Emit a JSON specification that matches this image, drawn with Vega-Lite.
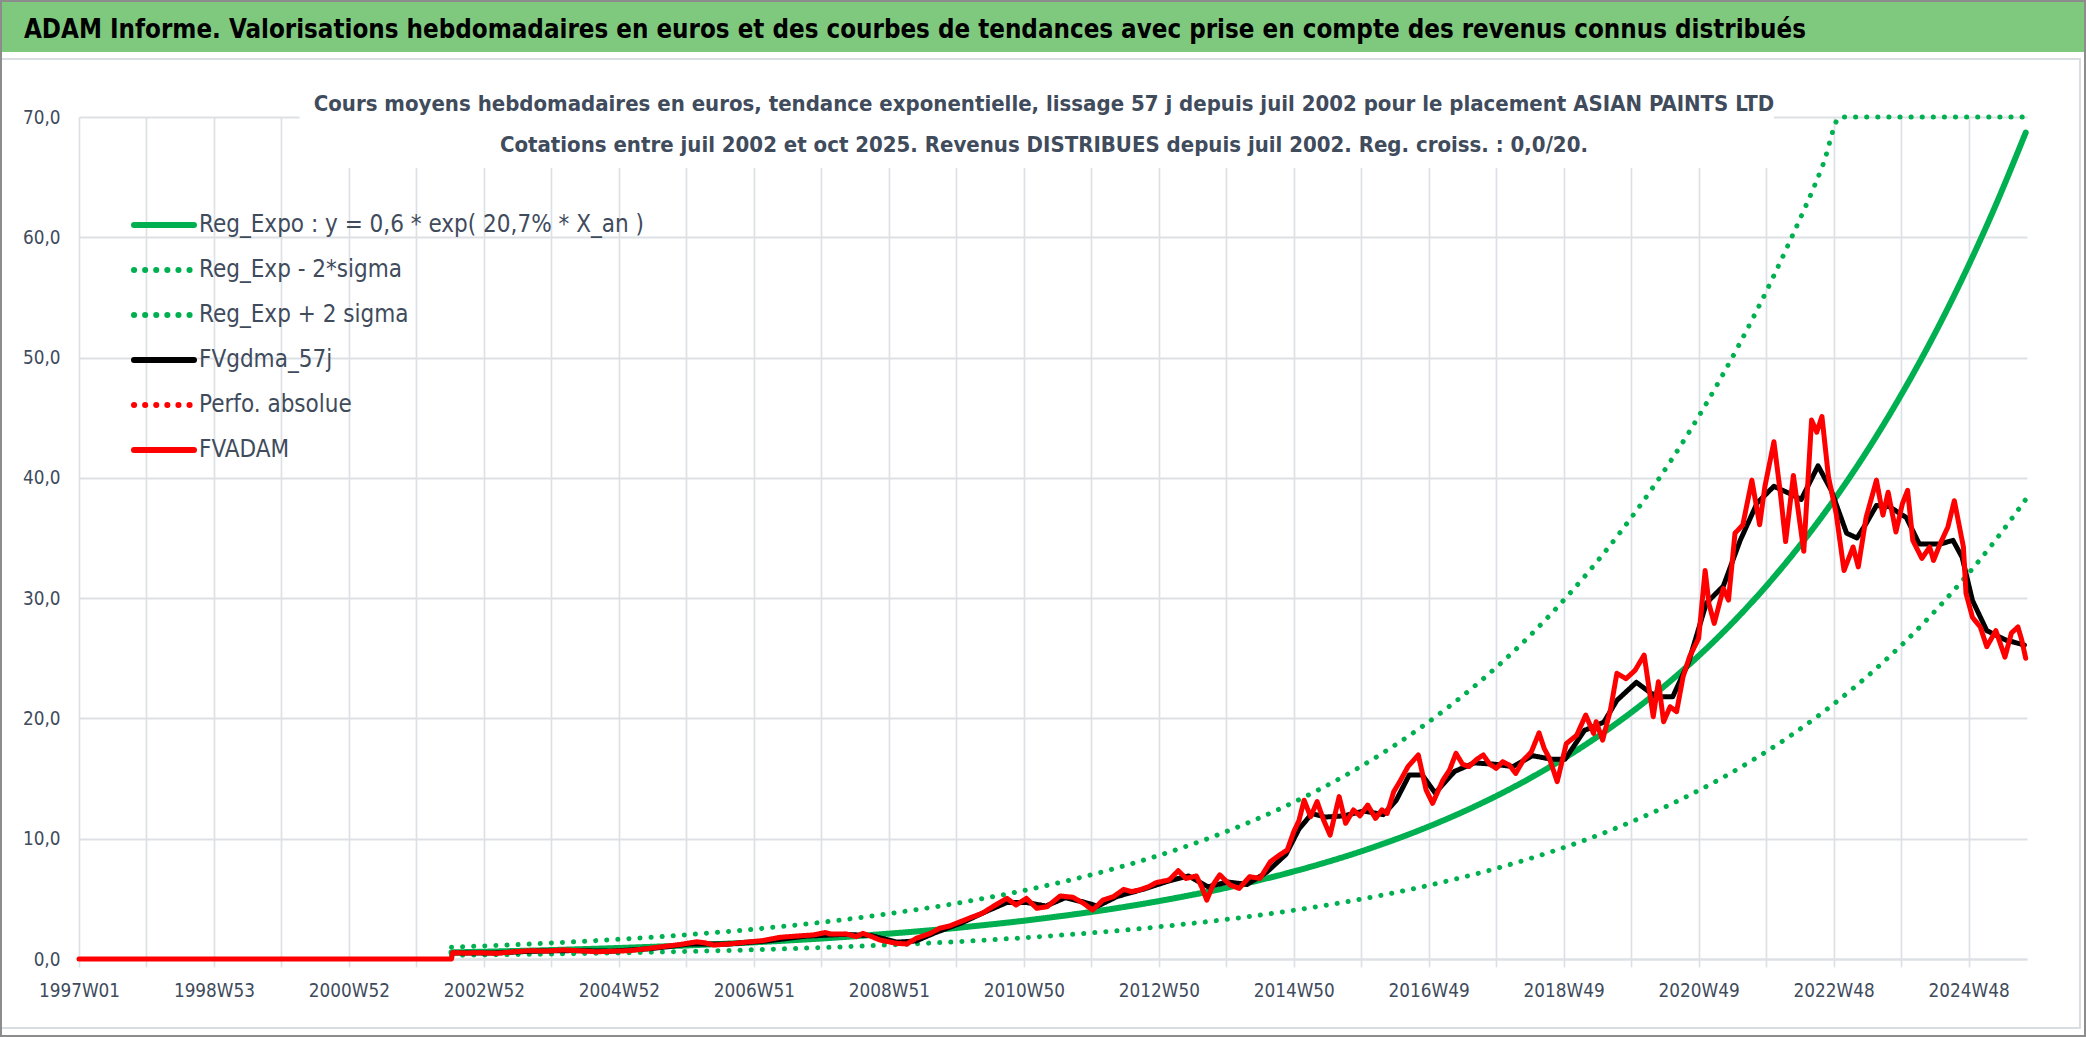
{
"$schema": "https://vega.github.io/schema/vega-lite/v6.json",
"width": 1948, "height": 842,
"autosize": {"type": "none"},
"padding": {"left": 79, "top": 117, "right": 59, "bottom": 78},
"background": "white",
"config": {"view": {"stroke": null}},
"layer": [
{"data": {"values": [{}]}, "mark": {"type": "rect", "color": "#7FC97F"},
 "encoding": {"x": {"datum": -61, "type": "quantitative", "scale": {"domain": [0,1501], "nice": false, "zero": false}, "axis": {"title": null}}, "x2": {"datum": 1547},
  "y": {"datum": 79.8, "type": "quantitative", "scale": {"domain": [0,70], "nice": false, "zero": false}, "axis": {"title": null}}, "y2": {"datum": 75.4}}},
{"data": {"values": [{}]}, "mark": {"type": "rect", "fill": null, "fillOpacity": 0, "stroke": "#D9DCE1", "strokeWidth": 2},
 "encoding": {"x": {"datum": -60.9, "type": "quantitative", "scale": {"domain": [0,1501], "nice": false, "zero": false}, "axis": {"title": null}}, "x2": {"datum": 1541.8},
  "y": {"datum": 74.82, "type": "quantitative", "scale": {"domain": [0,70], "nice": false, "zero": false}, "axis": {"title": null}}, "y2": {"datum": -5.74}}},
{"data": {"values": [{}]}, "mark": {"type": "rect", "color": "white"},
 "encoding": {"x": {"datum": 170, "type": "quantitative", "scale": {"domain": [0,1501], "nice": false, "zero": false}, "axis": {"title": null}}, "x2": {"datum": 1306},
  "y": {"datum": 70.25, "type": "quantitative", "scale": {"domain": [0,70], "nice": false, "zero": false}, "axis": {"title": null}}, "y2": {"datum": 65.75}}},
{"data": {"values": [
{"s":"Reg_Expo : y = 0,6 * exp( 20,7% *  X_an )","w":287,"v":0.548},{"s":"Reg_Expo : y = 0,6 * exp( 20,7% *  X_an )","w":304,"v":0.586},{"s":"Reg_Expo : y = 0,6 * exp( 20,7% *  X_an )","w":330,"v":0.65},{"s":"Reg_Expo : y = 0,6 * exp( 20,7% *  X_an )","w":356,"v":0.72},{"s":"Reg_Expo : y = 0,6 * exp( 20,7% *  X_an )","w":382,"v":0.8},{"s":"Reg_Expo : y = 0,6 * exp( 20,7% *  X_an )","w":408,"v":0.888},{"s":"Reg_Expo : y = 0,6 * exp( 20,7% *  X_an )","w":434,"v":0.985},{"s":"Reg_Expo : y = 0,6 * exp( 20,7% *  X_an )","w":460,"v":1.09},{"s":"Reg_Expo : y = 0,6 * exp( 20,7% *  X_an )","w":486,"v":1.21},{"s":"Reg_Expo : y = 0,6 * exp( 20,7% *  X_an )","w":512,"v":1.34},{"s":"Reg_Expo : y = 0,6 * exp( 20,7% *  X_an )","w":538,"v":1.49},{"s":"Reg_Expo : y = 0,6 * exp( 20,7% *  X_an )","w":564,"v":1.65},{"s":"Reg_Expo : y = 0,6 * exp( 20,7% *  X_an )","w":590,"v":1.83},{"s":"Reg_Expo : y = 0,6 * exp( 20,7% *  X_an )","w":616,"v":2.04},{"s":"Reg_Expo : y = 0,6 * exp( 20,7% *  X_an )","w":642,"v":2.26},{"s":"Reg_Expo : y = 0,6 * exp( 20,7% *  X_an )","w":668,"v":2.5},{"s":"Reg_Expo : y = 0,6 * exp( 20,7% *  X_an )","w":694,"v":2.78},{"s":"Reg_Expo : y = 0,6 * exp( 20,7% *  X_an )","w":720,"v":3.08},{"s":"Reg_Expo : y = 0,6 * exp( 20,7% *  X_an )","w":746,"v":3.42},{"s":"Reg_Expo : y = 0,6 * exp( 20,7% *  X_an )","w":772,"v":3.79},{"s":"Reg_Expo : y = 0,6 * exp( 20,7% *  X_an )","w":798,"v":4.2},{"s":"Reg_Expo : y = 0,6 * exp( 20,7% *  X_an )","w":824,"v":4.66},{"s":"Reg_Expo : y = 0,6 * exp( 20,7% *  X_an )","w":850,"v":5.17},{"s":"Reg_Expo : y = 0,6 * exp( 20,7% *  X_an )","w":876,"v":5.73},{"s":"Reg_Expo : y = 0,6 * exp( 20,7% *  X_an )","w":902,"v":6.36},{"s":"Reg_Expo : y = 0,6 * exp( 20,7% *  X_an )","w":928,"v":7.05},{"s":"Reg_Expo : y = 0,6 * exp( 20,7% *  X_an )","w":954,"v":7.82},{"s":"Reg_Expo : y = 0,6 * exp( 20,7% *  X_an )","w":980,"v":8.67},{"s":"Reg_Expo : y = 0,6 * exp( 20,7% *  X_an )","w":1006,"v":9.62},{"s":"Reg_Expo : y = 0,6 * exp( 20,7% *  X_an )","w":1032,"v":10.67},{"s":"Reg_Expo : y = 0,6 * exp( 20,7% *  X_an )","w":1058,"v":11.83},{"s":"Reg_Expo : y = 0,6 * exp( 20,7% *  X_an )","w":1084,"v":13.12},{"s":"Reg_Expo : y = 0,6 * exp( 20,7% *  X_an )","w":1110,"v":14.55},{"s":"Reg_Expo : y = 0,6 * exp( 20,7% *  X_an )","w":1136,"v":16.14},{"s":"Reg_Expo : y = 0,6 * exp( 20,7% *  X_an )","w":1162,"v":17.9},{"s":"Reg_Expo : y = 0,6 * exp( 20,7% *  X_an )","w":1188,"v":19.85},{"s":"Reg_Expo : y = 0,6 * exp( 20,7% *  X_an )","w":1214,"v":22.01},{"s":"Reg_Expo : y = 0,6 * exp( 20,7% *  X_an )","w":1240,"v":24.41},{"s":"Reg_Expo : y = 0,6 * exp( 20,7% *  X_an )","w":1266,"v":27.07},{"s":"Reg_Expo : y = 0,6 * exp( 20,7% *  X_an )","w":1292,"v":30.02},{"s":"Reg_Expo : y = 0,6 * exp( 20,7% *  X_an )","w":1318,"v":33.3},{"s":"Reg_Expo : y = 0,6 * exp( 20,7% *  X_an )","w":1344,"v":36.93},{"s":"Reg_Expo : y = 0,6 * exp( 20,7% *  X_an )","w":1370,"v":40.95},{"s":"Reg_Expo : y = 0,6 * exp( 20,7% *  X_an )","w":1396,"v":45.42},{"s":"Reg_Expo : y = 0,6 * exp( 20,7% *  X_an )","w":1422,"v":50.37},{"s":"Reg_Expo : y = 0,6 * exp( 20,7% *  X_an )","w":1448,"v":55.86},{"s":"Reg_Expo : y = 0,6 * exp( 20,7% *  X_an )","w":1474,"v":61.95},{"s":"Reg_Expo : y = 0,6 * exp( 20,7% *  X_an )","w":1500,"v":68.7},
{"s":"Reg_Exp - 2*sigma","w":287,"v":0.305},{"s":"Reg_Exp - 2*sigma","w":304,"v":0.326},{"s":"Reg_Exp - 2*sigma","w":330,"v":0.361},{"s":"Reg_Exp - 2*sigma","w":356,"v":0.4},{"s":"Reg_Exp - 2*sigma","w":382,"v":0.445},{"s":"Reg_Exp - 2*sigma","w":408,"v":0.494},{"s":"Reg_Exp - 2*sigma","w":434,"v":0.548},{"s":"Reg_Exp - 2*sigma","w":460,"v":0.606},{"s":"Reg_Exp - 2*sigma","w":486,"v":0.673},{"s":"Reg_Exp - 2*sigma","w":512,"v":0.745},{"s":"Reg_Exp - 2*sigma","w":538,"v":0.828},{"s":"Reg_Exp - 2*sigma","w":564,"v":0.917},{"s":"Reg_Exp - 2*sigma","w":590,"v":1.02},{"s":"Reg_Exp - 2*sigma","w":616,"v":1.134},{"s":"Reg_Exp - 2*sigma","w":642,"v":1.257},{"s":"Reg_Exp - 2*sigma","w":668,"v":1.39},{"s":"Reg_Exp - 2*sigma","w":694,"v":1.546},{"s":"Reg_Exp - 2*sigma","w":720,"v":1.712},{"s":"Reg_Exp - 2*sigma","w":746,"v":1.9},{"s":"Reg_Exp - 2*sigma","w":772,"v":2.107},{"s":"Reg_Exp - 2*sigma","w":798,"v":2.335},{"s":"Reg_Exp - 2*sigma","w":824,"v":2.59},{"s":"Reg_Exp - 2*sigma","w":850,"v":2.875},{"s":"Reg_Exp - 2*sigma","w":876,"v":3.186},{"s":"Reg_Exp - 2*sigma","w":902,"v":3.536},{"s":"Reg_Exp - 2*sigma","w":928,"v":3.92},{"s":"Reg_Exp - 2*sigma","w":954,"v":4.35},{"s":"Reg_Exp - 2*sigma","w":980,"v":4.82},{"s":"Reg_Exp - 2*sigma","w":1006,"v":5.35},{"s":"Reg_Exp - 2*sigma","w":1032,"v":5.93},{"s":"Reg_Exp - 2*sigma","w":1058,"v":6.58},{"s":"Reg_Exp - 2*sigma","w":1084,"v":7.29},{"s":"Reg_Exp - 2*sigma","w":1110,"v":8.09},{"s":"Reg_Exp - 2*sigma","w":1136,"v":8.97},{"s":"Reg_Exp - 2*sigma","w":1162,"v":9.95},{"s":"Reg_Exp - 2*sigma","w":1188,"v":11.04},{"s":"Reg_Exp - 2*sigma","w":1214,"v":12.24},{"s":"Reg_Exp - 2*sigma","w":1240,"v":13.57},{"s":"Reg_Exp - 2*sigma","w":1266,"v":15.05},{"s":"Reg_Exp - 2*sigma","w":1292,"v":16.69},{"s":"Reg_Exp - 2*sigma","w":1318,"v":18.51},{"s":"Reg_Exp - 2*sigma","w":1344,"v":20.53},{"s":"Reg_Exp - 2*sigma","w":1370,"v":22.77},{"s":"Reg_Exp - 2*sigma","w":1396,"v":25.25},{"s":"Reg_Exp - 2*sigma","w":1422,"v":28.0},{"s":"Reg_Exp - 2*sigma","w":1448,"v":31.06},{"s":"Reg_Exp - 2*sigma","w":1474,"v":34.44},{"s":"Reg_Exp - 2*sigma","w":1500,"v":38.2},
{"s":"Reg_Exp + 2 sigma","w":287,"v":0.98},{"s":"Reg_Exp + 2 sigma","w":304,"v":1.05},{"s":"Reg_Exp + 2 sigma","w":330,"v":1.16},{"s":"Reg_Exp + 2 sigma","w":356,"v":1.29},{"s":"Reg_Exp + 2 sigma","w":382,"v":1.43},{"s":"Reg_Exp + 2 sigma","w":408,"v":1.59},{"s":"Reg_Exp + 2 sigma","w":434,"v":1.76},{"s":"Reg_Exp + 2 sigma","w":460,"v":1.95},{"s":"Reg_Exp + 2 sigma","w":486,"v":2.17},{"s":"Reg_Exp + 2 sigma","w":512,"v":2.4},{"s":"Reg_Exp + 2 sigma","w":538,"v":2.67},{"s":"Reg_Exp + 2 sigma","w":564,"v":2.95},{"s":"Reg_Exp + 2 sigma","w":590,"v":3.28},{"s":"Reg_Exp + 2 sigma","w":616,"v":3.65},{"s":"Reg_Exp + 2 sigma","w":642,"v":4.05},{"s":"Reg_Exp + 2 sigma","w":668,"v":4.48},{"s":"Reg_Exp + 2 sigma","w":694,"v":4.98},{"s":"Reg_Exp + 2 sigma","w":720,"v":5.51},{"s":"Reg_Exp + 2 sigma","w":746,"v":6.12},{"s":"Reg_Exp + 2 sigma","w":772,"v":6.78},{"s":"Reg_Exp + 2 sigma","w":798,"v":7.52},{"s":"Reg_Exp + 2 sigma","w":824,"v":8.34},{"s":"Reg_Exp + 2 sigma","w":850,"v":9.25},{"s":"Reg_Exp + 2 sigma","w":876,"v":10.26},{"s":"Reg_Exp + 2 sigma","w":902,"v":11.38},{"s":"Reg_Exp + 2 sigma","w":928,"v":12.62},{"s":"Reg_Exp + 2 sigma","w":954,"v":14.0},{"s":"Reg_Exp + 2 sigma","w":980,"v":15.52},{"s":"Reg_Exp + 2 sigma","w":1006,"v":17.22},{"s":"Reg_Exp + 2 sigma","w":1032,"v":19.1},{"s":"Reg_Exp + 2 sigma","w":1058,"v":21.18},{"s":"Reg_Exp + 2 sigma","w":1084,"v":23.48},{"s":"Reg_Exp + 2 sigma","w":1110,"v":26.04},{"s":"Reg_Exp + 2 sigma","w":1136,"v":28.89},{"s":"Reg_Exp + 2 sigma","w":1162,"v":32.04},{"s":"Reg_Exp + 2 sigma","w":1188,"v":35.53},{"s":"Reg_Exp + 2 sigma","w":1214,"v":39.4},{"s":"Reg_Exp + 2 sigma","w":1240,"v":43.69},{"s":"Reg_Exp + 2 sigma","w":1266,"v":48.46},{"s":"Reg_Exp + 2 sigma","w":1292,"v":53.74},{"s":"Reg_Exp + 2 sigma","w":1318,"v":59.61},{"s":"Reg_Exp + 2 sigma","w":1344,"v":66.1},{"s":"Reg_Exp + 2 sigma","w":1357,"v":70},{"s":"Reg_Exp + 2 sigma","w":1400,"v":70},{"s":"Reg_Exp + 2 sigma","w":1450,"v":70},{"s":"Reg_Exp + 2 sigma","w":1500,"v":70},
{"s":"FVgdma_57j","w":288,"v":0.5},{"s":"FVgdma_57j","w":320,"v":0.5},{"s":"FVgdma_57j","w":350,"v":0.65},{"s":"FVgdma_57j","w":380,"v":0.7},{"s":"FVgdma_57j","w":410,"v":0.65},{"s":"FVgdma_57j","w":440,"v":0.85},{"s":"FVgdma_57j","w":470,"v":1.25},{"s":"FVgdma_57j","w":500,"v":1.25},{"s":"FVgdma_57j","w":530,"v":1.5},{"s":"FVgdma_57j","w":560,"v":1.9},{"s":"FVgdma_57j","w":590,"v":2.05},{"s":"FVgdma_57j","w":610,"v":1.95},{"s":"FVgdma_57j","w":630,"v":1.4},{"s":"FVgdma_57j","w":645,"v":1.5},{"s":"FVgdma_57j","w":660,"v":2.2},{"s":"FVgdma_57j","w":680,"v":3.0},{"s":"FVgdma_57j","w":700,"v":4.0},{"s":"FVgdma_57j","w":715,"v":4.7},{"s":"FVgdma_57j","w":730,"v":4.7},{"s":"FVgdma_57j","w":745,"v":4.4},{"s":"FVgdma_57j","w":760,"v":5.1},{"s":"FVgdma_57j","w":775,"v":4.7},{"s":"FVgdma_57j","w":785,"v":4.4},{"s":"FVgdma_57j","w":800,"v":5.2},{"s":"FVgdma_57j","w":820,"v":5.8},{"s":"FVgdma_57j","w":840,"v":6.5},{"s":"FVgdma_57j","w":855,"v":6.9},{"s":"FVgdma_57j","w":870,"v":6.0},{"s":"FVgdma_57j","w":885,"v":6.4},{"s":"FVgdma_57j","w":900,"v":6.2},{"s":"FVgdma_57j","w":915,"v":7.2},{"s":"FVgdma_57j","w":930,"v":8.7},{"s":"FVgdma_57j","w":940,"v":10.8},{"s":"FVgdma_57j","w":950,"v":12.1},{"s":"FVgdma_57j","w":960,"v":11.8},{"s":"FVgdma_57j","w":975,"v":11.9},{"s":"FVgdma_57j","w":990,"v":12.3},{"s":"FVgdma_57j","w":1005,"v":12.0},{"s":"FVgdma_57j","w":1015,"v":13.2},{"s":"FVgdma_57j","w":1025,"v":15.3},{"s":"FVgdma_57j","w":1035,"v":15.3},{"s":"FVgdma_57j","w":1045,"v":13.8},{"s":"FVgdma_57j","w":1060,"v":15.6},{"s":"FVgdma_57j","w":1075,"v":16.3},{"s":"FVgdma_57j","w":1090,"v":16.2},{"s":"FVgdma_57j","w":1105,"v":16.0},{"s":"FVgdma_57j","w":1120,"v":16.9},{"s":"FVgdma_57j","w":1135,"v":16.6},{"s":"FVgdma_57j","w":1145,"v":16.6},{"s":"FVgdma_57j","w":1160,"v":19.0},{"s":"FVgdma_57j","w":1175,"v":19.7},{"s":"FVgdma_57j","w":1185,"v":21.5},{"s":"FVgdma_57j","w":1200,"v":23.0},{"s":"FVgdma_57j","w":1215,"v":21.8},{"s":"FVgdma_57j","w":1228,"v":21.8},{"s":"FVgdma_57j","w":1240,"v":24.6},{"s":"FVgdma_57j","w":1254,"v":29.6},{"s":"FVgdma_57j","w":1267,"v":31.0},{"s":"FVgdma_57j","w":1280,"v":34.8},{"s":"FVgdma_57j","w":1293,"v":37.9},{"s":"FVgdma_57j","w":1306,"v":39.3},{"s":"FVgdma_57j","w":1318,"v":38.7},{"s":"FVgdma_57j","w":1327,"v":38.2},{"s":"FVgdma_57j","w":1340,"v":41.0},{"s":"FVgdma_57j","w":1350,"v":39.0},{"s":"FVgdma_57j","w":1362,"v":35.4},{"s":"FVgdma_57j","w":1370,"v":35.0},{"s":"FVgdma_57j","w":1377,"v":36.2},{"s":"FVgdma_57j","w":1385,"v":37.7},{"s":"FVgdma_57j","w":1395,"v":37.6},{"s":"FVgdma_57j","w":1408,"v":36.7},{"s":"FVgdma_57j","w":1418,"v":34.5},{"s":"FVgdma_57j","w":1434,"v":34.5},{"s":"FVgdma_57j","w":1444,"v":34.8},{"s":"FVgdma_57j","w":1451,"v":33.4},{"s":"FVgdma_57j","w":1459,"v":29.8},{"s":"FVgdma_57j","w":1470,"v":27.3},{"s":"FVgdma_57j","w":1485,"v":26.5},{"s":"FVgdma_57j","w":1499,"v":26.1},
{"s":"FVADAM","w":0,"v":0},{"s":"FVADAM","w":287,"v":0},{"s":"FVADAM","w":288,"v":0.53},{"s":"FVADAM","w":296,"v":0.5},{"s":"FVADAM","w":310,"v":0.52},{"s":"FVADAM","w":322,"v":0.47},{"s":"FVADAM","w":335,"v":0.6},{"s":"FVADAM","w":347,"v":0.69},{"s":"FVADAM","w":360,"v":0.66},{"s":"FVADAM","w":373,"v":0.75},{"s":"FVADAM","w":386,"v":0.68},{"s":"FVADAM","w":399,"v":0.6},{"s":"FVADAM","w":412,"v":0.65},{"s":"FVADAM","w":424,"v":0.69},{"s":"FVADAM","w":437,"v":0.85},{"s":"FVADAM","w":450,"v":1.03},{"s":"FVADAM","w":463,"v":1.2},{"s":"FVADAM","w":476,"v":1.43},{"s":"FVADAM","w":482,"v":1.35},{"s":"FVADAM","w":489,"v":1.16},{"s":"FVADAM","w":501,"v":1.25},{"s":"FVADAM","w":514,"v":1.4},{"s":"FVADAM","w":527,"v":1.53},{"s":"FVADAM","w":540,"v":1.8},{"s":"FVADAM","w":553,"v":1.91},{"s":"FVADAM","w":566,"v":2.0},{"s":"FVADAM","w":575,"v":2.2},{"s":"FVADAM","w":579,"v":2.08},{"s":"FVADAM","w":591,"v":2.08},{"s":"FVADAM","w":599,"v":1.86},{"s":"FVADAM","w":604,"v":2.13},{"s":"FVADAM","w":610,"v":1.9},{"s":"FVADAM","w":617,"v":1.58},{"s":"FVADAM","w":630,"v":1.3},{"s":"FVADAM","w":638,"v":1.25},{"s":"FVADAM","w":645,"v":1.72},{"s":"FVADAM","w":656,"v":2.13},{"s":"FVADAM","w":663,"v":2.55},{"s":"FVADAM","w":671,"v":2.75},{"s":"FVADAM","w":676,"v":2.97},{"s":"FVADAM","w":689,"v":3.52},{"s":"FVADAM","w":696,"v":3.8},{"s":"FVADAM","w":704,"v":4.35},{"s":"FVADAM","w":715,"v":5.04},{"s":"FVADAM","w":722,"v":4.49},{"s":"FVADAM","w":730,"v":5.04},{"s":"FVADAM","w":738,"v":4.21},{"s":"FVADAM","w":746,"v":4.35},{"s":"FVADAM","w":756,"v":5.24},{"s":"FVADAM","w":766,"v":5.13},{"s":"FVADAM","w":774,"v":4.63},{"s":"FVADAM","w":781,"v":4.07},{"s":"FVADAM","w":789,"v":4.9},{"s":"FVADAM","w":797,"v":5.18},{"s":"FVADAM","w":805,"v":5.79},{"s":"FVADAM","w":811,"v":5.6},{"s":"FVADAM","w":817,"v":5.74},{"s":"FVADAM","w":824,"v":6.0},{"s":"FVADAM","w":830,"v":6.35},{"s":"FVADAM","w":840,"v":6.57},{"s":"FVADAM","w":847,"v":7.34},{"s":"FVADAM","w":853,"v":6.7},{"s":"FVADAM","w":861,"v":6.9},{"s":"FVADAM","w":865,"v":6.0},{"s":"FVADAM","w":869,"v":4.9},{"s":"FVADAM","w":874,"v":6.2},{"s":"FVADAM","w":879,"v":7.0},{"s":"FVADAM","w":887,"v":6.15},{"s":"FVADAM","w":894,"v":5.87},{"s":"FVADAM","w":902,"v":6.84},{"s":"FVADAM","w":910,"v":6.7},{"s":"FVADAM","w":918,"v":8.09},{"s":"FVADAM","w":925,"v":8.64},{"s":"FVADAM","w":931,"v":9.06},{"s":"FVADAM","w":936,"v":10.58},{"s":"FVADAM","w":940,"v":11.5},{"s":"FVADAM","w":944,"v":13.2},{"s":"FVADAM","w":949,"v":11.83},{"s":"FVADAM","w":954,"v":13.08},{"s":"FVADAM","w":959,"v":11.55},{"s":"FVADAM","w":964,"v":10.3},{"s":"FVADAM","w":971,"v":13.5},{"s":"FVADAM","w":976,"v":11.28},{"s":"FVADAM","w":982,"v":12.39},{"s":"FVADAM","w":987,"v":11.9},{"s":"FVADAM","w":993,"v":12.8},{"s":"FVADAM","w":999,"v":11.69},{"s":"FVADAM","w":1004,"v":12.4},{"s":"FVADAM","w":1008,"v":12.1},{"s":"FVADAM","w":1013,"v":13.9},{"s":"FVADAM","w":1018,"v":14.8},{"s":"FVADAM","w":1024,"v":15.99},{"s":"FVADAM","w":1032,"v":16.96},{"s":"FVADAM","w":1038,"v":14.05},{"s":"FVADAM","w":1043,"v":12.94},{"s":"FVADAM","w":1051,"v":14.88},{"s":"FVADAM","w":1056,"v":15.7},{"s":"FVADAM","w":1061,"v":17.1},{"s":"FVADAM","w":1066,"v":16.2},{"s":"FVADAM","w":1071,"v":16.0},{"s":"FVADAM","w":1077,"v":16.6},{"s":"FVADAM","w":1082,"v":16.96},{"s":"FVADAM","w":1087,"v":16.2},{"s":"FVADAM","w":1092,"v":15.85},{"s":"FVADAM","w":1097,"v":16.4},{"s":"FVADAM","w":1102,"v":16.13},{"s":"FVADAM","w":1107,"v":15.43},{"s":"FVADAM","w":1113,"v":16.54},{"s":"FVADAM","w":1119,"v":17.2},{"s":"FVADAM","w":1125,"v":18.8},{"s":"FVADAM","w":1129,"v":17.5},{"s":"FVADAM","w":1133,"v":16.68},{"s":"FVADAM","w":1139,"v":14.74},{"s":"FVADAM","w":1146,"v":17.9},{"s":"FVADAM","w":1154,"v":18.6},{"s":"FVADAM","w":1161,"v":20.28},{"s":"FVADAM","w":1167,"v":18.76},{"s":"FVADAM","w":1169,"v":19.73},{"s":"FVADAM","w":1174,"v":18.2},{"s":"FVADAM","w":1180,"v":20.7},{"s":"FVADAM","w":1185,"v":23.75},{"s":"FVADAM","w":1192,"v":23.3},{"s":"FVADAM","w":1199,"v":24.0},{"s":"FVADAM","w":1206,"v":25.27},{"s":"FVADAM","w":1213,"v":20.14},{"s":"FVADAM","w":1217,"v":23.05},{"s":"FVADAM","w":1221,"v":19.73},{"s":"FVADAM","w":1226,"v":20.97},{"s":"FVADAM","w":1231,"v":20.56},{"s":"FVADAM","w":1236,"v":23.47},{"s":"FVADAM","w":1241,"v":25.13},{"s":"FVADAM","w":1248,"v":26.66},{"s":"FVADAM","w":1253,"v":32.3},{"s":"FVADAM","w":1256,"v":29.5},{"s":"FVADAM","w":1260,"v":27.9},{"s":"FVADAM","w":1267,"v":30.8},{"s":"FVADAM","w":1271,"v":29.84},{"s":"FVADAM","w":1276,"v":35.4},{"s":"FVADAM","w":1282,"v":36.08},{"s":"FVADAM","w":1289,"v":39.8},{"s":"FVADAM","w":1295,"v":36.1},{"s":"FVADAM","w":1299,"v":39.26},{"s":"FVADAM","w":1306,"v":43.0},{"s":"FVADAM","w":1311,"v":38.7},{"s":"FVADAM","w":1315,"v":34.7},{"s":"FVADAM","w":1321,"v":40.2},{"s":"FVADAM","w":1329,"v":33.9},{"s":"FVADAM","w":1335,"v":44.8},{"s":"FVADAM","w":1339,"v":43.8},{"s":"FVADAM","w":1343,"v":45.1},{"s":"FVADAM","w":1348,"v":40.1},{"s":"FVADAM","w":1354,"v":37.0},{"s":"FVADAM","w":1360,"v":32.3},{"s":"FVADAM","w":1367,"v":34.25},{"s":"FVADAM","w":1371,"v":32.6},{"s":"FVADAM","w":1377,"v":36.7},{"s":"FVADAM","w":1385,"v":39.8},{"s":"FVADAM","w":1390,"v":36.9},{"s":"FVADAM","w":1394,"v":38.8},{"s":"FVADAM","w":1400,"v":35.5},{"s":"FVADAM","w":1405,"v":37.85},{"s":"FVADAM","w":1409,"v":38.96},{"s":"FVADAM","w":1413,"v":34.8},{"s":"FVADAM","w":1420,"v":33.3},{"s":"FVADAM","w":1426,"v":34.25},{"s":"FVADAM","w":1429,"v":33.14},{"s":"FVADAM","w":1434,"v":34.5},{"s":"FVADAM","w":1440,"v":35.9},{"s":"FVADAM","w":1445,"v":38.1},{"s":"FVADAM","w":1449,"v":35.9},{"s":"FVADAM","w":1452,"v":34.25},{"s":"FVADAM","w":1454,"v":30.4},{"s":"FVADAM","w":1459,"v":28.4},{"s":"FVADAM","w":1465,"v":27.6},{"s":"FVADAM","w":1470,"v":25.96},{"s":"FVADAM","w":1477,"v":27.3},{"s":"FVADAM","w":1484,"v":25.1},{"s":"FVADAM","w":1489,"v":27.1},{"s":"FVADAM","w":1494,"v":27.6},{"s":"FVADAM","w":1497,"v":26.5},{"s":"FVADAM","w":1500,"v":25.0}
]},
 "encoding": {
  "x": {"field": "w", "type": "quantitative", "scale": {"domain": [0,1501], "nice": false, "zero": false},
   "axis": {"title": null, "values": [0,52,104,156,208,260,312,364,416,468,520,572,624,676,728,780,832,884,936,988,1040,1092,1144,1196,1248,1300,1352,1404,1456],
    "labelExpr": "datum.value % 104 == 0 ? ['1997W01','1998W53','2000W52','2002W52','2004W52','2006W51','2008W51','2010W50','2012W50','2014W50','2016W49','2018W49','2020W49','2022W48','2024W48'][datum.value / 104] : ''",
    "grid": true, "gridColor": "#DDE1E6", "gridWidth": 1.7, "ticks": true, "tickSize": 8, "tickColor": "#DDE1E6", "tickWidth": 1.7,
    "domain": true, "domainColor": "#DDE1E6", "domainWidth": 2, "labelFlush": false, "labelOverlap": false, "labelBound": false,
    "labelFont": "DejaVu Sans Condensed, sans-serif", "labelFontSize": 18.8, "labelColor": "#404B5C", "labelPadding": 14}},
  "y": {"field": "v", "type": "quantitative", "scale": {"domain": [0,70], "nice": false, "zero": false},
   "axis": {"title": null, "values": [0,10,20,30,40,50,60,70], "labelExpr": "replace(format(datum.value, '.1f'), '.', ',')",
    "grid": true, "gridColor": "#DDE1E6", "gridWidth": 2, "ticks": false, "domain": false,
    "labelFont": "DejaVu Sans Condensed, sans-serif", "labelFontSize": 18.8, "labelColor": "#404B5C", "labelPadding": 19}},
  "color": {"field": "s", "type": "nominal",
   "scale": {"domain": ["Reg_Expo : y = 0,6 * exp( 20,7% *  X_an )","Reg_Exp - 2*sigma","Reg_Exp + 2 sigma","FVgdma_57j","Perfo. absolue","FVADAM"],
    "range": ["#00B050","#00B050","#00B050","#000000","#FF0000","#FF0000"]},
   "legend": {"orient": "none", "legendX": 52, "legendY": 75, "title": null, "symbolType": "stroke", "symbolSize": 3600, "symbolStrokeWidth": 6,
    "labelFont": "DejaVu Sans Condensed, sans-serif", "labelFontSize": 24, "labelColor": "#404B5C", "labelOffset": 2, "labelLimit": 0, "rowPadding": -5, "padding": 0,
    "encoding": {"symbols": {"strokeCap": {"value": "round"}}}}},
  "strokeDash": {"field": "s", "type": "nominal",
   "scale": {"domain": ["Reg_Expo : y = 0,6 * exp( 20,7% *  X_an )","Reg_Exp - 2*sigma","Reg_Exp + 2 sigma","FVgdma_57j","Perfo. absolue","FVADAM"],
    "range": [[1,0],[0.1,11],[0.1,11],[1,0],[0.1,11],[1,0]]},
   "legend": {"orient": "none", "legendX": 52, "legendY": 75, "title": null, "symbolType": "stroke", "symbolSize": 3600, "symbolStrokeWidth": 6,
    "labelFont": "DejaVu Sans Condensed, sans-serif", "labelFontSize": 24, "labelColor": "#404B5C", "labelOffset": 2, "labelLimit": 0, "rowPadding": -5, "padding": 0,
    "encoding": {"symbols": {"strokeCap": {"value": "round"}}}}}
 },
 "layer": [
  {"transform": [{"filter": {"field": "s", "oneOf": ["Reg_Expo : y = 0,6 * exp( 20,7% *  X_an )"]}}], "mark": {"type": "line", "strokeWidth": 6, "strokeCap": "round", "interpolate": "monotone"}},
  {"transform": [{"filter": {"field": "s", "oneOf": ["Reg_Exp - 2*sigma","Reg_Exp + 2 sigma"]}}], "mark": {"type": "line", "strokeWidth": 5, "strokeCap": "round", "interpolate": "monotone"}},
  {"transform": [{"filter": {"field": "s", "oneOf": ["FVgdma_57j"]}}], "mark": {"type": "line", "strokeWidth": 5, "strokeCap": "round", "strokeJoin": "round"}},
  {"transform": [{"filter": {"field": "s", "oneOf": ["FVADAM"]}}], "mark": {"type": "line", "strokeWidth": 5, "strokeCap": "round", "strokeJoin": "round"}}
 ]},
{"data": {"values": [{}]}, "mark": {"type": "text", "align": "left", "baseline": "middle", "font": "DejaVu Sans Condensed, sans-serif", "fontSize": 25.7, "fontWeight": "bold", "color": "#000000"},
 "encoding": {"x": {"datum": -42.4, "type": "quantitative", "scale": {"domain": [0,1501], "nice": false, "zero": false}, "axis": {"title": null}},
  "y": {"datum": 77.23, "type": "quantitative", "scale": {"domain": [0,70], "nice": false, "zero": false}, "axis": {"title": null}},
  "text": {"value": "ADAM Informe. Valorisations hebdomadaires en euros et des courbes de tendances avec prise en compte des revenus connus distribués"}}},
{"data": {"values": [{}]}, "mark": {"type": "text", "align": "center", "baseline": "middle", "font": "DejaVu Sans Condensed, sans-serif", "fontSize": 22, "fontWeight": "bold", "color": "#404B5C"},
 "encoding": {"x": {"datum": 743.5, "type": "quantitative", "scale": {"domain": [0,1501], "nice": false, "zero": false}, "axis": {"title": null}},
  "y": {"datum": 71.07, "type": "quantitative", "scale": {"domain": [0,70], "nice": false, "zero": false}, "axis": {"title": null}},
  "text": {"value": "Cours moyens hebdomadaires en euros, tendance exponentielle, lissage 57 j depuis juil 2002 pour le placement ASIAN PAINTS LTD"}}},
{"data": {"values": [{}]}, "mark": {"type": "text", "align": "center", "baseline": "middle", "font": "DejaVu Sans Condensed, sans-serif", "fontSize": 22, "fontWeight": "bold", "color": "#404B5C"},
 "encoding": {"x": {"datum": 743.5, "type": "quantitative", "scale": {"domain": [0,1501], "nice": false, "zero": false}, "axis": {"title": null}},
  "y": {"datum": 67.66, "type": "quantitative", "scale": {"domain": [0,70], "nice": false, "zero": false}, "axis": {"title": null}},
  "text": {"value": "Cotations entre juil 2002 et oct 2025. Revenus DISTRIBUES depuis juil 2002. Reg. croiss. : 0,0/20."}}},
{"data": {"values": [{}]}, "mark": {"type": "rect", "fill": null, "fillOpacity": 0, "stroke": "#8C8C8C", "strokeWidth": 2},
 "encoding": {"x": {"datum": -60.1, "type": "quantitative", "scale": {"domain": [0,1501], "nice": false, "zero": false}, "axis": {"title": null}}, "x2": {"datum": 1545.7},
  "y": {"datum": 79.65, "type": "quantitative", "scale": {"domain": [0,70], "nice": false, "zero": false}, "axis": {"title": null}}, "y2": {"datum": -6.4}}}
]
}
